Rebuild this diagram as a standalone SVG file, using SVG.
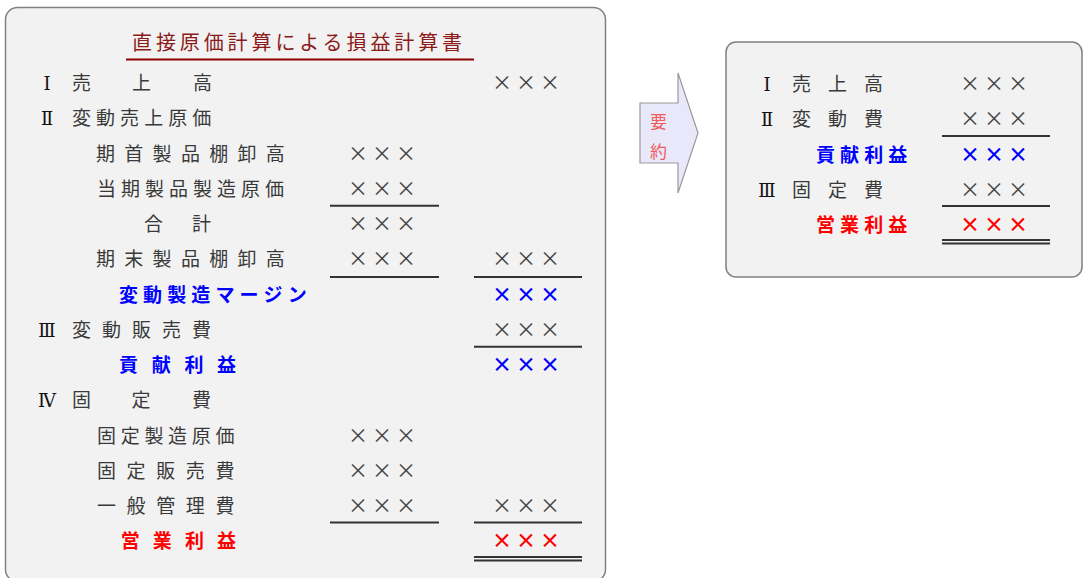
<svg xmlns="http://www.w3.org/2000/svg" width="1083" height="578" viewBox="0 0 1083 578">
<style>
.box{fill:#f2f2f2;stroke:#808080;stroke-width:1.5}
.t{font-family:"Noto Sans CJK JP","Noto Sans CJK SC",sans-serif;font-size:19px;fill:#3a3a3a}
.rn{font-family:"DejaVu Serif","Liberation Serif","Noto Sans CJK JP",serif;font-size:18px;fill:#111;text-anchor:middle}
.x{font-family:"Noto Sans CJK JP",sans-serif;font-size:20px;fill:#444;text-anchor:middle}
.xb{fill:#0000ff;font-weight:bold}
.xr{fill:#ff0000;font-weight:bold}
.blue{font-family:"Noto Sans CJK JP",sans-serif;font-size:19px;font-weight:bold;fill:#0000ff}
.red{font-family:"Noto Sans CJK JP",sans-serif;font-size:19px;font-weight:bold;fill:#ff0000}
.rule{stroke:#333;stroke-width:2;fill:none}
.title{font-family:"Noto Sans CJK JP",sans-serif;font-size:20px;fill:#8b1a1a;letter-spacing:3.9px}
</style>

<g id="statement">
<rect class="box" x="5.5" y="7.5" width="600" height="574" rx="12"/>
<text class="title" x="132" y="50">直接原価計算による損益計算書</text>
<line x1="126" y1="59.5" x2="474" y2="59.5" stroke="#8b0000" stroke-width="2"/>

<text class="rn" x="47" y="90">Ⅰ</text>
<text class="t" x="72 132 193" y="90">売上高</text>
<text class="x" x="502 526 550" y="90">×××</text>

<text class="rn" x="47" y="125.4">Ⅱ</text>
<text class="t" x="72 96 120 144.2 168.2 192.3" y="125.4">変動売上原価</text>

<text class="t" x="96 124.3 152.6 180.9 209.2 237.5 265.8" y="160.7">期首製品棚卸高</text>
<text class="x" x="358 382 406" y="160.7">×××</text>

<text class="t" x="97 121 145 169 193 217 241 265" y="195.9">当期製品製造原価</text>
<text class="x" x="358 382 406" y="195.9">×××</text>

<text class="t" x="144 192" y="231.1">合計</text>
<text class="x" x="358 382 406" y="231.1">×××</text>

<text class="t" x="96 124.3 152.6 180.9 209.2 237.5 265.8" y="266.4">期末製品棚卸高</text>
<text class="x" x="358 382 406" y="266.4">×××</text>
<text class="x" x="502 526 550" y="266.4">×××</text>

<text class="blue" x="119 143.1 167.2 191.3 215.4 239.5 263.6 287.7" y="301.6">変動製造マージン</text>
<text class="x xb" x="502 526 550" y="301.6">×××</text>

<text class="rn" x="47" y="336.8">Ⅲ</text>
<text class="t" x="72 102 132 162 192" y="336.8">変動販売費</text>
<text class="x" x="502 526 550" y="336.8">×××</text>

<text class="blue" x="119 151.7 184.4 217" y="372">貢献利益</text>
<text class="x xb" x="502 526 550" y="372">×××</text>

<text class="rn" x="47" y="407.3">Ⅳ</text>
<text class="t" x="72 131.5 192" y="407.3">固定費</text>

<text class="t" x="97 120.7 144.4 168.1 191.8 215.5" y="442.5">固定製造原価</text>
<text class="x" x="358 382 406" y="442.5">×××</text>

<text class="t" x="97 126.6 156.2 185.8 215.4" y="477.7">固定販売費</text>
<text class="x" x="358 382 406" y="477.7">×××</text>

<text class="t" x="97 126.6 156.2 185.8 215.4" y="513">一般管理費</text>
<text class="x" x="358 382 406" y="513">×××</text>
<text class="x" x="502 526 550" y="513">×××</text>

<text class="red" x="120.7 152.8 184.9 217" y="548.2">営業利益</text>
<text class="x xr" x="502 526 550" y="548.2">×××</text>
</g>

<g id="arrow">
<polygon points="640,103 678,103 678,73 698,133 678,193 678,163 640,163" fill="#e8e8fa" stroke="#999" stroke-width="1.2"/>
<text x="658.5" y="128" font-family="Noto Sans CJK JP,sans-serif" font-size="17" fill="#f05a5a" text-anchor="middle">要</text>
<text x="658.5" y="158" font-family="Noto Sans CJK JP,sans-serif" font-size="17" fill="#f05a5a" text-anchor="middle">約</text>
</g>

<g id="summary">
<rect class="box" x="726" y="42" width="356" height="235" rx="10"/>
<text class="rn" x="767" y="91.2">Ⅰ</text>
<text class="t" x="792 828 864" y="91.2">売上高</text>
<text class="x" x="970 994 1018" y="91.2">×××</text>

<text class="rn" x="767" y="126.4">Ⅱ</text>
<text class="t" x="792 828 864" y="126.4">変動費</text>
<text class="x" x="970 994 1018" y="126.4">×××</text>

<text class="blue" x="816 840.1 864.2 888.3" y="161.6">貢献利益</text>
<text class="x xb" x="970 994 1018" y="161.6">×××</text>

<text class="rn" x="767" y="196.8">Ⅲ</text>
<text class="t" x="792 828 864" y="196.8">固定費</text>
<text class="x" x="970 994 1018" y="196.8">×××</text>

<text class="red" x="816 840.1 864.2 888.3" y="232">営業利益</text>
<text class="x xr" x="970 994 1018" y="232">×××</text>
</g>

<g id="connectors">
<line class="rule" x1="330" y1="205.7" x2="439" y2="205.7"/>
<line class="rule" x1="330" y1="277" x2="439" y2="277"/>
<line class="rule" x1="474" y1="277" x2="582" y2="277"/>
<line class="rule" x1="474" y1="346.7" x2="582" y2="346.7"/>
<line class="rule" x1="330" y1="522.5" x2="439" y2="522.5"/>
<line class="rule" x1="474" y1="522.5" x2="582" y2="522.5"/>
<line class="rule" x1="474" y1="557" x2="582" y2="557"/>
<line class="rule" x1="474" y1="560.5" x2="582" y2="560.5"/>
<line class="rule" x1="942" y1="136" x2="1050" y2="136"/>
<line class="rule" x1="942" y1="206" x2="1050" y2="206"/>
<line class="rule" x1="942" y1="240" x2="1050" y2="240"/>
<line class="rule" x1="942" y1="243.6" x2="1050" y2="243.6"/>
</g>
</svg>
